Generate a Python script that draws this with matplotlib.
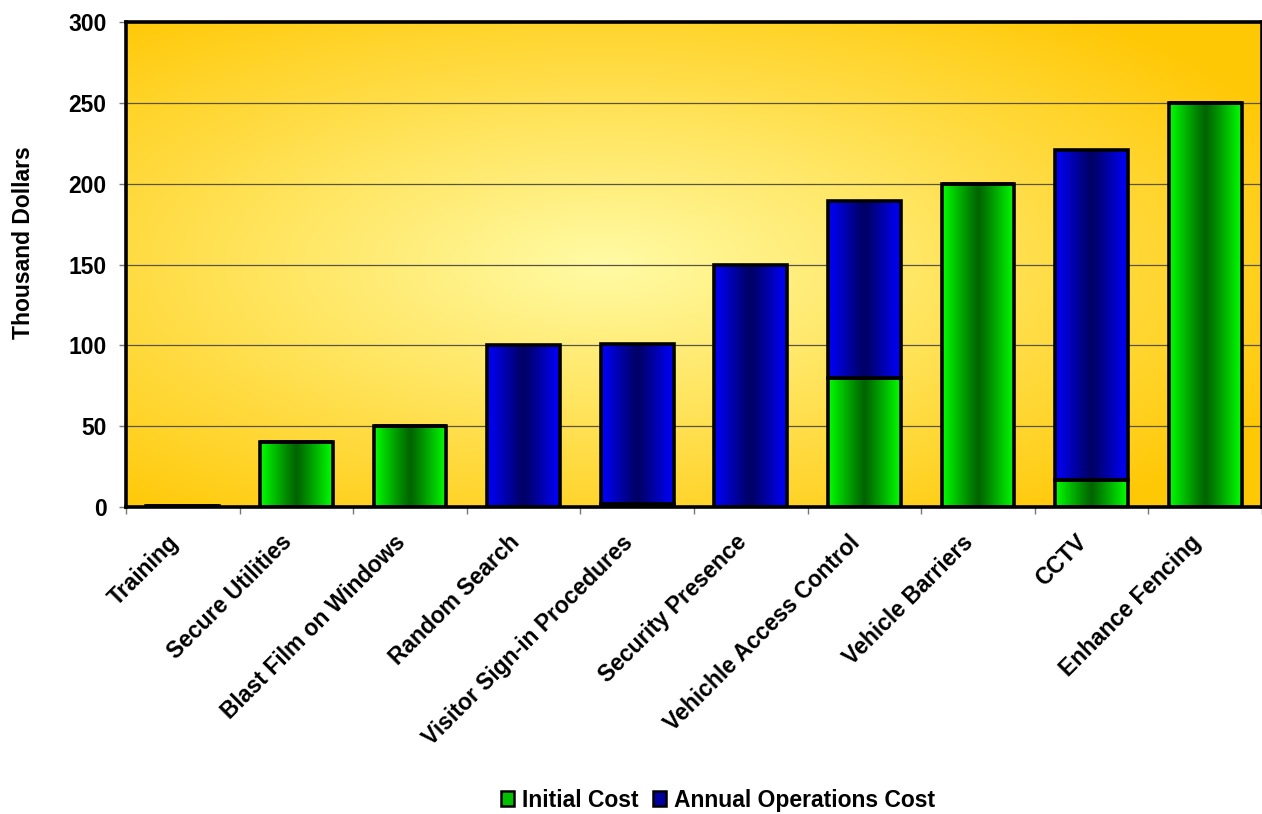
import matplotlib; matplotlib.use("Agg")
import matplotlib.pyplot as plt
import matplotlib.transforms as mtrans
import numpy as np
from matplotlib.patches import Patch

plt.rcParams["font.family"] = ["Liberation Sans", "DejaVu Sans"]
plt.rcParams["font.weight"] = "bold"

categories = ["Training", "Secure Utilities", "Blast Film on Windows", "Random Search",
              "Visitor Sign-in Procedures", "Security Presence", "Vehichle Access Control",
              "Vehicle Barriers", "CCTV", "Enhance Fencing"]
initial_cost = [1, 40, 50, 0, 2, 0, 80, 200, 17, 250]
annual_cost = [0, 0, 0, 100, 99, 150, 109, 0, 204, 0]
yticks = [0, 50, 100, 150, 200, 250, 300]

green = (np.array([0, 255, 0]) / 255, np.array([0, 100, 0]) / 255)
blue = (np.array([0, 0, 255]) / 255, np.array([0, 0, 100]) / 255)

def bar_gradient(edge, mid, n=64):
    t = np.abs(np.linspace(-1, 1, n))
    w = t ** 1.1
    img = mid[None, :] * (1 - w[:, None]) + edge[None, :] * w[:, None]
    return img[None, :, :]

FS = 16.5
fig = plt.figure(figsize=(12.62, 8.14), dpi=100)
ax = fig.add_axes([0.0998, 0.377, 0.9002, 0.596])

n = len(categories)
x = np.arange(n) + 0.5

# radial yellow backdrop
gy, gx = np.mgrid[0:1:300j, 0:1:400j]
r = np.sqrt(((gx - 0.42) / 0.68) ** 2 + ((gy - 0.5) / 0.66) ** 2)
r = np.clip(r, 0, 1)
light = np.array([255, 251, 165]) / 255
gold = np.array([255, 200, 5]) / 255
bg = light[None, None, :] * (1 - r[..., None]) + gold[None, None, :] * r[..., None]
ax.imshow(bg, extent=[0, n, 0, 300], origin="lower", aspect="auto", zorder=0)

ax.set_yticks(yticks)
ax.yaxis.grid(True, color="#5a5540", lw=0.9, zorder=1)
ax.set_axisbelow(True)

width = 0.64
b1 = ax.bar(x, initial_cost, width, facecolor="none", edgecolor="black", lw=2.6, zorder=4)
b2 = ax.bar(x, annual_cost, width, bottom=initial_cost, facecolor="none",
            edgecolor="black", lw=2.6, zorder=4)

for bars, (edge, mid) in ((b1, green), (b2, blue)):
    img = bar_gradient(edge, mid)
    for p in bars:
        h = p.get_height()
        if h <= 0:
            continue
        x0, y0 = p.get_x(), p.get_y()
        ax.imshow(img, extent=[x0, x0 + p.get_width(), y0, y0 + h],
                  aspect="auto", zorder=3, interpolation="bilinear")
ax.set_xlim(0, n)
ax.set_ylim(0, 300)

for sp in ax.spines.values():
    sp.set_linewidth(2.6)
    sp.set_color("black")
    sp.set_zorder(5)

ax.set_xticks(np.arange(n + 1))
ax.set_xticklabels([])
ax.set_xticks(x, minor=True)
ax.set_xticklabels(categories, minor=True, rotation=45, ha="right",
                   rotation_mode="anchor", fontsize=FS, fontweight="bold")
ax.tick_params(axis="x", which="major", length=5, color="#777777", width=1)
ax.tick_params(axis="x", which="minor", length=0, pad=17)
ax.tick_params(axis="y", length=5, color="#777777", width=1, labelsize=FS, pad=9)
for lab in ax.get_yticklabels():
    lab.set_fontweight("bold")
shift = mtrans.ScaledTranslation(-16 / 100, 0, fig.dpi_scale_trans)
for lab in ax.get_xticklabels(minor=True):
    lab.set_transform(lab.get_transform() + shift)

fig.text(0.019, 0.325 + 0.377, "Thousand Dollars", rotation=90, ha="center", va="center",
         fontsize=FS, fontweight="bold")

handles = [Patch(facecolor="#00c000", edgecolor="black", lw=1.8, label="Initial Cost"),
           Patch(facecolor="#0000a0", edgecolor="black", lw=1.8, label="Annual Operations Cost")]
fig.legend(handles=handles, loc="center", bbox_to_anchor=(0.569, 0.017), ncol=2,
           frameon=False, fontsize=FS, handlelength=0.6, handleheight=0.6,
           handletextpad=0.35, columnspacing=0.6)

fig.savefig("out.png", dpi=100, facecolor="white")
